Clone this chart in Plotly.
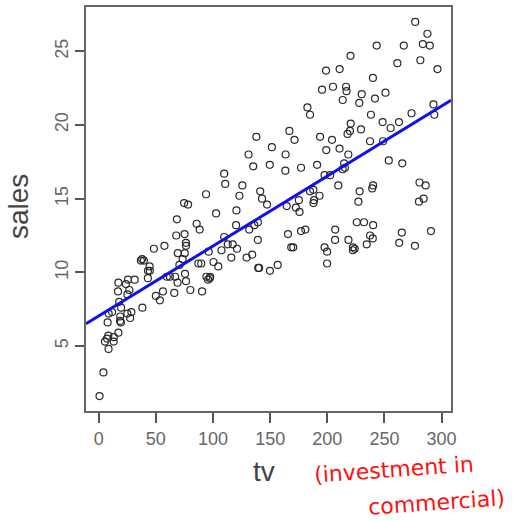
import numpy as np
import plotly.graph_objects as go

tv = [230.1, 44.5, 17.2, 151.5, 180.8, 8.7, 57.5, 120.2, 8.6, 199.8,
      66.1, 214.7, 23.8, 97.5, 204.1, 195.4, 67.8, 281.4, 69.2, 147.3,
      218.4, 237.4, 13.2, 228.3, 62.3, 262.9, 142.9, 240.1, 248.8, 70.6,
      292.9, 112.9, 97.2, 265.6, 95.7, 290.7, 266.9, 74.7, 43.1, 228,
      202.5, 177, 293.6, 206.9, 25.1, 175.1, 89.7, 239.9, 227.2, 66.9,
      199.8, 100.4, 216.4, 182.6, 262.7, 198.9, 7.3, 136.2, 210.8, 210.7,
      53.5, 261.3, 239.3, 102.7, 131.1, 69, 31.5, 139.3, 237.4, 216.8,
      199.1, 109.8, 26.8, 129.4, 213.4, 16.9, 27.5, 120.5, 5.4, 116,
      76.4, 239.8, 75.3, 68.4, 213.5, 193.2, 76.3, 110.7, 88.3, 109.8,
      134.3, 28.6, 217.7, 250.9, 107.4, 163.3, 197.6, 184.9, 289.7, 135.2,
      222.4, 296.4, 280.2, 187.9, 238.2, 137.9, 25, 90.4, 13.1, 255.4,
      225.8, 241.7, 175.7, 209.6, 78.2, 75.1, 139.2, 76.4, 125.7, 19.4,
      141.3, 18.8, 224, 123.1, 229.5, 87.2, 7.8, 80.2, 220.3, 59.6,
      0.7, 265.2, 8.4, 219.8, 36.9, 48.3, 25.6, 273.7, 43, 184.9,
      73.4, 193.7, 220.5, 104.6, 96.2, 140.3, 240.1, 243.2, 38, 44.7,
      280.7, 121, 197.6, 171.3, 187.8, 4.1, 93.9, 149.8, 11.7, 131.7,
      172.5, 85.7, 188.4, 163.5, 117.2, 234.5, 17.9, 206.8, 215.4, 284.3,
      50, 164.5, 19.6, 168.4, 222.4, 276.9, 248.4, 170.2, 276.7, 165.6,
      156.6, 218.5, 56.2, 287.6, 253.8, 205, 139.5, 191.1, 286, 18.7,
      39.5, 75.5, 17.2, 166.8, 149.7, 38.2, 94.2, 177, 283.6, 232.1]

sales = [22.1, 10.4, 9.3, 18.5, 12.9, 7.2, 11.8, 13.2, 4.8, 10.6,
         8.6, 17.4, 9.2, 9.7, 19, 22.4, 12.5, 24.4, 11.3, 14.6,
         18, 12.5, 5.6, 15.5, 9.7, 12, 15, 15.9, 18.9, 10.5,
         21.4, 11.9, 9.6, 17.4, 9.5, 12.8, 25.4, 14.7, 10.1, 21.5,
         16.6, 17.1, 20.7, 12.9, 8.5, 14.9, 10.6, 23.2, 14.8, 9.7,
         11.4, 10.7, 22.6, 21.2, 20.2, 23.7, 5.5, 13.2, 23.8, 18.4,
         8.1, 24.2, 15.7, 14, 18, 9.3, 9.5, 13.4, 18.9, 22.3,
         18.3, 12.4, 8.8, 11, 17, 8.7, 6.9, 14.2, 5.3, 11,
         11.8, 12.3, 11.3, 13.6, 21.7, 15.2, 12, 16, 12.9, 16.7,
         11.2, 7.3, 19.4, 22.2, 11.5, 16.9, 11.7, 15.5, 25.4, 17.2,
         11.7, 23.8, 14.8, 14.7, 20.7, 19.2, 7.2, 8.7, 5.3, 19.8,
         13.4, 21.8, 14.1, 15.9, 14.6, 12.6, 12.2, 9.4, 15.9, 6.6,
         15.5, 7, 11.6, 15.2, 19.7, 10.6, 6.6, 8.8, 24.7, 9.7,
         1.6, 12.7, 5.7, 19.6, 10.8, 11.6, 9.5, 20.8, 9.6, 20.7,
         10.9, 19.2, 20.1, 10.4, 11.4, 10.3, 13.2, 25.4, 10.9, 10.1,
         16.1, 11.6, 16.6, 19, 15.6, 3.2, 15.3, 10.1, 7.3, 12.9,
         14.4, 13.3, 14.9, 18, 11.9, 11.9, 8, 12.2, 17.1, 15,
         8.4, 14.5, 7.6, 11.7, 11.5, 27, 20.2, 11.7, 11.8, 12.6,
         10.5, 12.2, 8.7, 26.2, 17.6, 22.6, 10.3, 17.3, 15.9, 6.7,
         10.8, 9.9, 5.9, 19.6, 17.3, 7.6, 9.7, 12.8, 25.5, 13.4]

x_ticks = [0, 50, 100, 150, 200, 250, 300]
y_ticks = [5, 10, 15, 20, 25]

# R-style 4% axis extension
xmin, xmax = min(tv), max(tv)
ymin, ymax = min(sales), max(sales)
xr = [xmin - 0.04 * (xmax - xmin), xmax + 0.04 * (xmax - xmin)]
yr = [ymin - 0.04 * (ymax - ymin), ymax + 0.04 * (ymax - ymin)]

slope, intercept = np.polyfit(tv, sales, 1)
line_x = np.array(xr)
line_y = intercept + slope * line_x

W, H = 520, 521
ML, MR, MT, MB = 86, 69, 7, 110
PL, PR = ML, W - MR
PT, PB = MT, H - MB


def px(xp):
    return (xp - PL) / (PR - PL)


def py(yp):
    return (PB - yp) / (PB - PT)


fig = go.Figure()
fig.add_trace(go.Scatter(
    x=tv, y=sales, mode="markers",
    marker=dict(symbol="circle-open", size=7, color="#2a2a2a", line=dict(width=1.2)),
    showlegend=False, hoverinfo="skip"))
fig.add_trace(go.Scatter(
    x=line_x, y=line_y, mode="lines",
    line=dict(color="#1010ee", width=3),
    showlegend=False, hoverinfo="skip"))

fig.update_layout(
    width=W, height=H,
    margin=dict(l=ML, r=MR, t=MT, b=MB, autoexpand=False),
    paper_bgcolor="white", plot_bgcolor="white",
    font=dict(family="Liberation Sans, Arial, sans-serif", color="#555555"),
    xaxis=dict(range=xr, tickvals=x_ticks, ticks="outside", ticklen=10,
               tickwidth=2, tickcolor="#555555", showgrid=False, zeroline=False,
               showline=True, mirror=True, linecolor="#666666", linewidth=2,
               tickfont=dict(size=18, color="#666666")),
    yaxis=dict(range=yr, tickvals=y_ticks, ticks="outside", ticklen=9,
               tickwidth=2, tickcolor="#555555", showgrid=False, zeroline=False,
               showline=True, mirror=True, linecolor="#666666", linewidth=2,
               tickangle=-90, tickfont=dict(size=18, color="#666666")),
    annotations=[
        dict(text="sales", xref="paper", yref="paper", x=px(18), y=py(207),
             showarrow=False, textangle=-90, xanchor="center", yanchor="middle",
             font=dict(size=28, color="#444444")),
        dict(text="tv", xref="paper", yref="paper", x=px(264), y=py(472),
             showarrow=False, xanchor="center", yanchor="middle",
             font=dict(size=28, color="#444444")),
        dict(text="(investment in", xref="paper", yref="paper",
             x=px(394), y=py(470), showarrow=False,
             xanchor="center", yanchor="middle", textangle=-4,
             font=dict(size=22, color="#ff1010", family="DejaVu Sans")),
        dict(text="commercial)", xref="paper", yref="paper",
             x=px(436), y=py(502), showarrow=False,
             xanchor="center", yanchor="middle", textangle=-4,
             font=dict(size=22, color="#ff1010", family="DejaVu Sans")),
    ],
)

fig.write_html("out.html",
               config={"displayModeBar": False},
               post_script="document.body.style.margin='0';document.body.style.overflow='hidden';")
